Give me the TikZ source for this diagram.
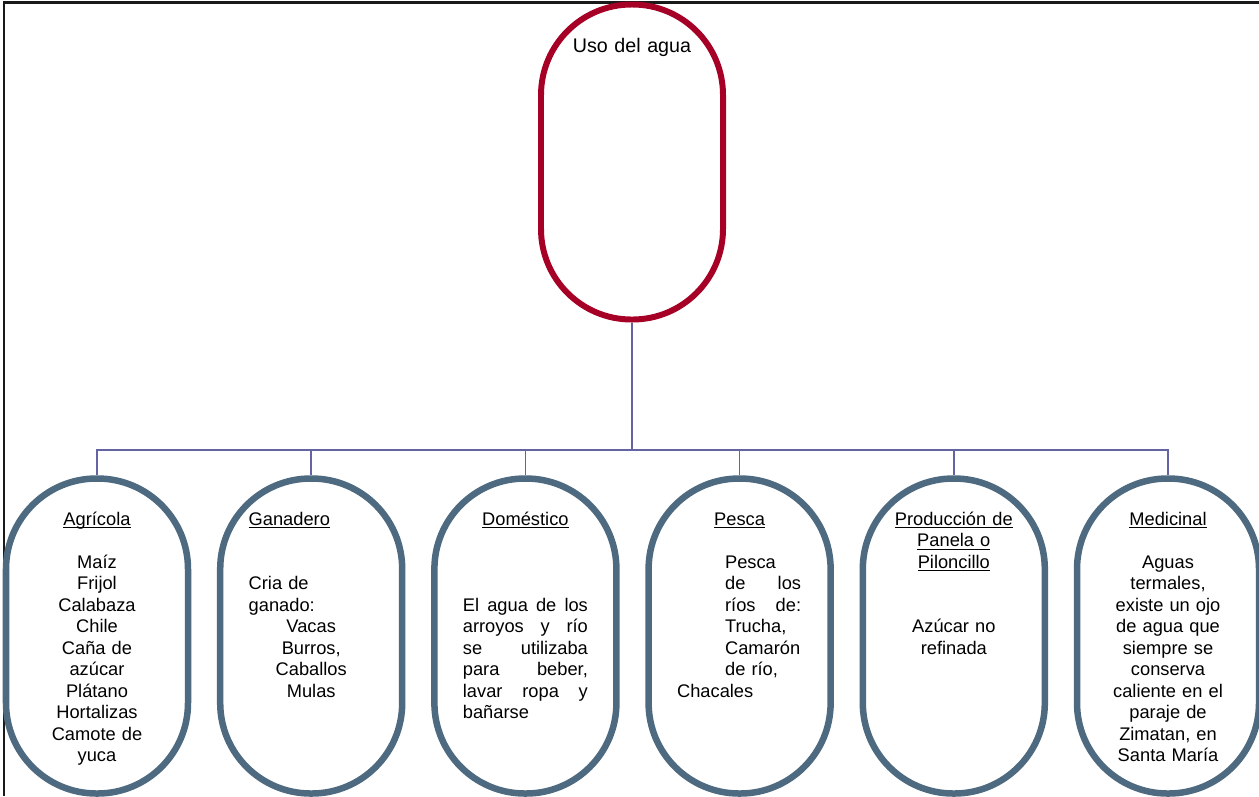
\documentclass[tikz,border=0pt]{standalone}
\usepackage{fontspec}
\setmainfont{Liberation Sans}
\usepackage{xcolor}
\usetikzlibrary{positioning}

\definecolor{usored}{RGB}{166,0,38}
\definecolor{ramaslate}{RGB}{78,106,128}
\definecolor{linkpurple}{RGB}{100,100,165}

\newcommand{\subr}[1]{\leavevmode\setbox0\hbox{#1}\rlap{\rule[-1.6pt]{\wd0}{0.6pt}}\box0}
\newcommand{\lnjust}[2][\linewidth]{{\spaceskip=0.278em plus 1fil\makebox[#1][s]{#2}}}
\newcommand{\lnmid}[1]{\makebox[\linewidth]{#1}}

\begin{document}
\begin{tikzpicture}[
  node distance=5.14mm,
  every node/.style={font=\fontsize{10.4}{12.24}\selectfont},
  oval/.style={draw=ramaslate, line width=3.7pt, minimum width=3.64cm,
    minimum height=6.3cm, rounded corners=1.81cm, inner sep=0pt},
  rootoval/.style={oval, draw=usored, line width=3.4pt},
  txt/.style={inner sep=0pt, text width=2.5cm, align=center},
  link/.style={draw=linkpurple, line width=0.9pt}
]
\useasboundingbox (0,0) rectangle (25.18,-15.92);
\draw[line width=1.2pt, black!90] (0.08,-15.92) |- (25.18,-0.05);

\node[rootoval] (uso) at (12.64,-3.24) {};
\node[oval] (agr) at (1.94,-12.72) {};
\node[oval, right=of agr] (gan) {};
\node[oval, right=of gan] (dom) {};
\node[oval, right=of dom] (pes) {};
\node[oval, right=of pes] (pro) {};
\node[oval, right=of pro] (med) {};

\coordinate[below=2.55cm of uso.south] (bus);
\draw[link] (uso) -- (bus);
\foreach \n in {agr,gan,dom,pes,pro,med}
  \draw[link] (bus) -| (\n);

\node[txt, font=\fontsize{11.2}{13}\selectfont, below=1.02cm of uso.north, anchor=base] (usotxt) {Uso del agua};

\node[txt, below=1cm of agr.north, anchor=base] (agrtxt) {\subr{Agrícola}\\[\baselineskip]
  Maíz\\ Frijol\\ Calabaza\\ Chile\\ Caña de\\ azúcar\\ Plátano\\ Hortalizas\\ Camote de\\ yuca};

\node[txt, align=left, below=1cm of gan.north, anchor=base] (gantxt) {\subr{Ganadero}\\[2\baselineskip]
  Cria de\\ ganado:\\ \lnmid{Vacas}\\ \lnmid{Burros,}\\ \lnmid{Caballos}\\ \lnmid{Mulas}};

\node[txt, align=left, below=1cm of dom.north, anchor=base] (domtxt) {\lnmid{\subr{Doméstico}}\\[3\baselineskip]
  \lnjust{El agua de los}\\ \lnjust{arroyos y río}\\ \lnjust{se utilizaba}\\
  \lnjust{para beber,}\\ \lnjust{lavar ropa y}\\ bañarse};

\node[txt, align=left, below=1cm of pes.north, anchor=base] (pestxt) {\lnmid{\subr{Pesca}}\\[\baselineskip]
  \hspace*{0.96cm}Pesca\\
  \hspace*{0.96cm}\lnjust[1.52cm]{de los}\\
  \hspace*{0.96cm}\lnjust[1.52cm]{ríos de:}\\
  \hspace*{0.96cm}Trucha,\\
  \hspace*{0.96cm}Camarón\\
  \hspace*{0.96cm}de río,\\
  Chacales};

\node[txt, below=1cm of pro.north, anchor=base] (protxt) {\subr{Producción de}\\ \subr{Panela o}\\ \subr{Piloncillo}\\[2\baselineskip]
  Azúcar no\\ refinada};

\node[txt, below=1cm of med.north, anchor=base] (medtxt) {\subr{Medicinal}\\[\baselineskip]
  Aguas\\ termales,\\ existe un ojo\\ de agua que\\ siempre se\\ conserva\\ caliente en el\\ paraje de\\ Zimatan, en\\ Santa María};
\end{tikzpicture}
\end{document}
